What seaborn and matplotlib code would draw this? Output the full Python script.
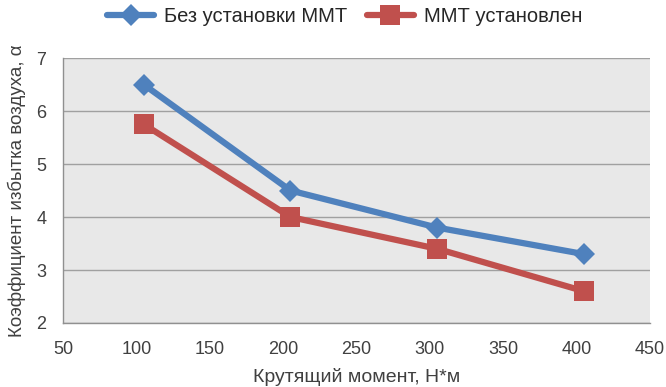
import matplotlib
matplotlib.use("Agg")
import matplotlib.pyplot as plt
import seaborn as sns
import pandas as pd

torque = [105, 205, 305, 405]
alpha_without = [6.5, 4.5, 3.8, 3.3]
alpha_with = [5.75, 4.0, 3.4, 2.6]
series_names = ["Без установки ММТ", "ММТ установлен"]
x_ticks = [50, 100, 150, 200, 250, 300, 350, 400, 450]
y_ticks = [2, 3, 4, 5, 6, 7]

df = pd.DataFrame({
    "x": torque * 2,
    "y": alpha_without + alpha_with,
    "s": [series_names[0]] * 4 + [series_names[1]] * 4,
})

sns.set_style("white")
plt.rcParams['font.family'] = ['Liberation Sans', 'DejaVu Sans']

fig = plt.figure(figsize=(6.66, 3.87), dpi=100)
ax = fig.add_axes([0.0946, 0.1654, 0.8814, 0.6846])
ax.set_facecolor("#E8E8E8")

palette = {series_names[0]: "#4F81BD", series_names[1]: "#C0504D"}
sns.lineplot(data=df, x="x", y="y", hue="s", style="s", palette=palette,
             markers={series_names[0]: "D", series_names[1]: "s"},
             dashes=False, linewidth=4.5, markersize=11.5, markeredgewidth=0,
             ax=ax, legend=True, zorder=3)
ax.lines[1].set_markersize(14)

ax.set_xlim(50, 450)
ax.set_ylim(2, 7)
ax.set_xticks(x_ticks)
ax.set_yticks(y_ticks)
ax.grid(axis="y", color="#A0A0A0", linewidth=1)
ax.set_axisbelow(True)
for s in ["top", "right"]:
    ax.spines[s].set_visible(False)
for s in ["left", "bottom"]:
    ax.spines[s].set_color("#909090")
    ax.spines[s].set_linewidth(1)
ax.tick_params(axis="both", direction="out", length=5, color="#909090",
               labelsize=13, labelcolor="#404040", width=1)
ax.tick_params(axis="x", pad=8)
ax.tick_params(axis="y", pad=7)
ax.set_xlabel("Крутящий момент, Н*м", fontsize=14, color="#404040", labelpad=7)
ax.set_ylabel("Коэффициент избытка воздуха, α", fontsize=13.5, color="#404040", labelpad=7)

handles, labels = ax.get_legend_handles_labels()
handles[0].set_markersize(11.5)
handles[1].set_markersize(14)
ax.legend(handles, labels, loc="center", bbox_to_anchor=(0.48, 1.155),
          ncol=2, frameon=False, fontsize=14.5, handlelength=2.3,
          columnspacing=1.0, handletextpad=0.5, labelcolor="#262626")

fig.savefig("out.png", dpi=100)
